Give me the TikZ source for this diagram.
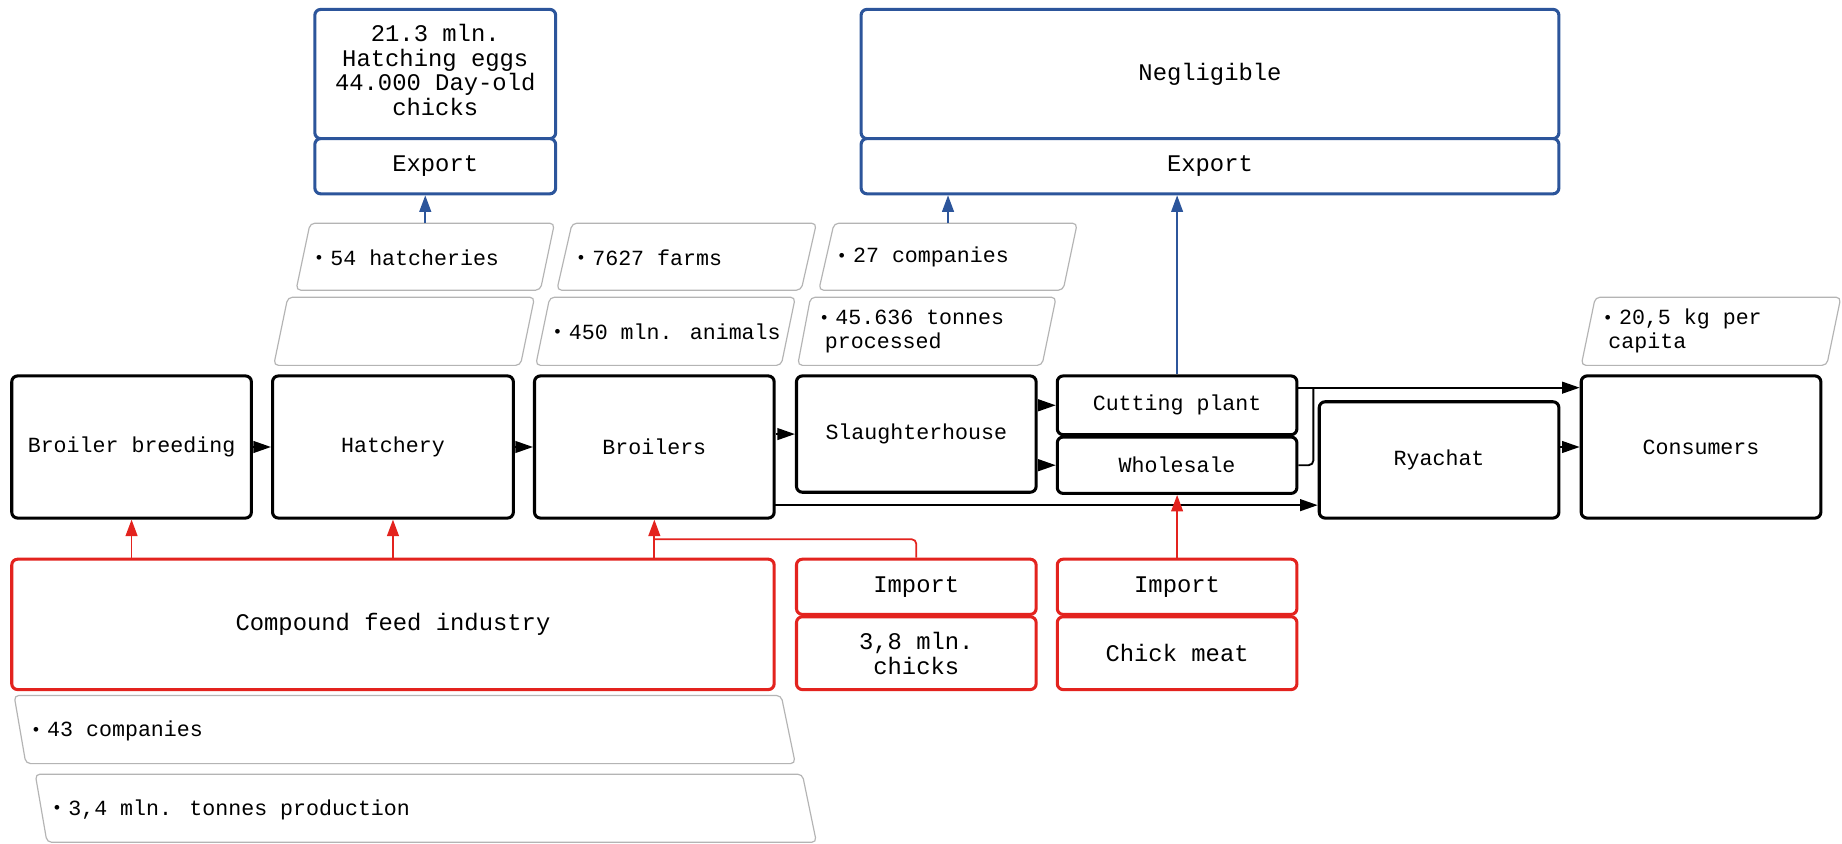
\documentclass[tikz,border=0pt]{standalone}
\usepackage{fontspec}
\setmainfont{Liberation Mono}
\usetikzlibrary{arrows.meta}
\definecolor{eblue}{HTML}{2C559B}
\definecolor{ered}{HTML}{E3231E}
\definecolor{pgray}{HTML}{B4B4B4}
\newcommand{\fsA}{\fontsize{18.4}{20.5}\selectfont}
\newcommand{\fsB}{\fontsize{20.3}{21}\selectfont}
\newcommand{\bul}{\makebox[14pt][l]{\raisebox{1pt}{\scalebox{0.8}{•}}}}
\begin{document}
\begin{tikzpicture}[x=1pt,y=-1pt,
 box/.style={rounded corners=5pt, line width=2.6pt, fill=white, align=center, inner sep=2pt, font=\fsA},
 kbox/.style={box, draw=black},
 bbox/.style={box, draw=eblue, font=\fsB},
 rbox/.style={box, draw=ered, font=\fsB},
 para/.style={draw=pgray, line width=1pt, rounded corners=4pt},
 ptxt/.style={anchor=west, align=left, font=\fsA, inner sep=0pt},
 karr/.style={line width=1.6pt, -{Triangle[length=15pt,width=10pt]}},
 barr/.style={draw=eblue, line width=1.5pt, -{Triangle[length=14pt,width=10pt]}},
 rarr/.style={draw=ered, line width=1.5pt, -{Triangle[length=14pt,width=10pt]}},
 rline/.style={draw=ered, line width=1.5pt, rounded corners=4pt},
 kline/.style={draw=black, line width=1.6pt, rounded corners=4pt},
]
\useasboundingbox (0,0) rectangle (1568,718);
\fill[white] (0,0) rectangle (1568,718);

% parallelograms
\draw[para] (252,247) -- (264,190) -- (472,190) -- (460,247) -- cycle;
\draw[para] (474,247) -- (487,190) -- (695,190) -- (682,247) -- cycle;
\draw[para] (697,247) -- (710,190) -- (917,190) -- (905,247) -- cycle;
\draw[para] (233,311) -- (245,253) -- (455,253) -- (443,311) -- cycle;
\draw[para] (456,311) -- (468,253) -- (677,253) -- (665,311) -- cycle;
\draw[para] (679,311) -- (690,253) -- (899,253) -- (887,311) -- cycle;
\draw[para] (1346,311) -- (1358,253) -- (1567,253) -- (1555,311) -- cycle;
\draw[para] (12,592) -- (665,592) -- (677,650) -- (22,650) -- cycle;
\draw[para] (30,659) -- (683,659) -- (695,717) -- (40,717) -- cycle;

\node[ptxt] (t54) at (267,219) {\bul 54 hatcheries};
\node[ptxt] (t7627) at (490,219) {\bul 7627 farms};
\node[ptxt] (t27) at (712,219) {\bul 27 companies};
\node[ptxt] (t450) at (470,282) {\bul 450 mln. animals};
\node[ptxt] (t456) at (697,282) {\bul 45.636 tonnes\\\hspace{5pt}processed};
\node[ptxt] (t205) at (1364,282) {\bul 20,5 kg per\\\hspace{5pt}capita};
\node[ptxt] (t43) at (26,622) {\bul 43 companies};
\node[ptxt] (t34) at (44,689) {\bul 3,4 mln. tonnes production};

\coordinate (p54) at (362,190);
\coordinate (p27) at (807,190);

% top blue boxes
\node[bbox, minimum width=205pt, minimum height=110pt] (hx) at (370.5,63) {};
\node[font=\fsB, align=center, inner sep=0pt] (hxt) at (370.5,59.5) {21.3 mln.\\Hatching eggs\\44.000 Day-old\\chicks};
\node[bbox, minimum width=205pt, minimum height=47pt] (ex1) at (370.5,141.5) {Export};
\node[bbox, minimum width=594pt, minimum height=110pt] (neg) at (1030,63) {Negligible};
\node[bbox, minimum width=594pt, minimum height=47pt] (ex2) at (1030,141.5) {Export};

% main chain
\node[kbox, minimum width=204pt, minimum height=121pt] (brb) at (112,380.5) {Broiler breeding};
\node[kbox, minimum width=205pt, minimum height=121pt] (hat) at (334.5,380.5) {Hatchery};
\node[kbox, minimum width=204pt, minimum height=121pt] (bro) at (557,380.5) {Broilers};
\node[kbox, minimum width=204pt, minimum height=99pt] (sla) at (780,369.5) {Slaughterhouse};
\node[kbox, minimum width=204pt, minimum height=50pt] (cut) at (1002,345) {Cutting plant};
\node[kbox, minimum width=204pt, minimum height=48pt] (who) at (1002,396) {Wholesale};
\node[kbox, minimum width=204pt, minimum height=99pt] (rya) at (1225,391.5) {Ryachat};
\node[kbox, minimum width=204pt, minimum height=121pt] (con) at (1448,380.5) {Consumers};

% red boxes
\node[rbox, minimum width=649pt, minimum height=111pt] (cfi) at (334.5,531.5) {Compound feed industry};
\node[rbox, minimum width=204pt, minimum height=47pt] (im1) at (780,499.5) {Import};
\node[rbox, minimum width=204pt, minimum height=62pt] (chk) at (780,556) {3,8 mln.\\chicks};
\node[rbox, minimum width=204pt, minimum height=47pt] (im2) at (1002,499.5) {Import};
\node[rbox, minimum width=204pt, minimum height=62pt] (cme) at (1002,556) {Chick meat};

% black connectors
\draw[karr] (brb.east) -- (hat.west);
\draw[karr] (hat.east) -- (bro.west);
\draw[karr] (bro.east |- sla.west) -- (sla.west);
\draw[karr] (sla.east |- cut.west) -- (cut.west);
\draw[karr] (sla.east |- who.west) -- (who.west);
\coordinate (cc) at (1104,330);
\coordinate (jn) at (1118,330);
\draw[karr] (cc) -- (con.west |- cc);
\draw[kline] (who.east) -| (jn);
\coordinate (bb) at (659,430);
\draw[karr] (bb) -- (rya.west |- bb);
\draw[karr] (rya.east |- con.west) -- (con.west);

% red connectors
\draw[rarr] (brb.south |- cfi.north) -- (brb.south);
\draw[rarr] (hat.south |- cfi.north) -- (hat.south);
\draw[rarr] (bro.south |- cfi.north) -- (bro.south);
\coordinate (rj) at (557,459);
\draw[rline] (im1.north) |- (rj);
\draw[rarr] (im2.north) -- (who.south);

% blue connectors
\draw[barr] (p54) -- (ex1.south -| p54);
\draw[barr] (p27) -- (ex2.south -| p27);
\draw[barr, line width=1.2pt] (cut.north) -- (ex2.south -| cut.north);
\end{tikzpicture}
\end{document}
